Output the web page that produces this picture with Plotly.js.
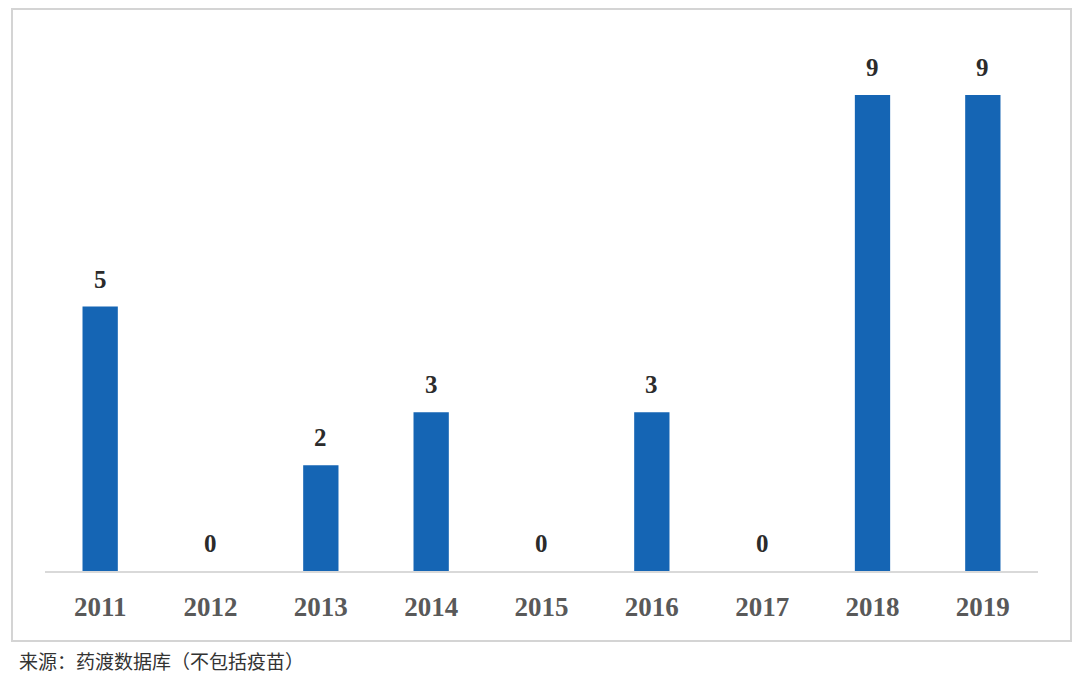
<!DOCTYPE html>
<html>
<head>
<meta charset="utf-8">
<script src="https://cdn.plot.ly/plotly-3.0.1.min.js"></script>
<style>html,body{margin:0;padding:0;background:#fff;}#chart{width:1080px;height:695px;}</style>
</head>
<body>
<div id="chart"></div>
<script>
const years = ['2011','2012','2013','2014','2015','2016','2017','2018','2019'];
const counts = [5, 0, 2, 3, 0, 3, 0, 9, 9];
const sourceText = '来源：药渡数据库（不包括疫苗）';

const plotL = 45, plotR = 1038, plotT = 42, plotB = 571;
const pw = plotR - plotL, ph = plotB - plotT;
const px = x => (x - plotL) / pw;
const py = y => (plotB - y) / ph;

const trace = {
  type: 'bar',
  x: years,
  y: counts,
  marker: {color: '#1565b4'},
  hoverinfo: 'x+y'
};

const labelAnnotations = years.map((yr, i) => ({
  x: i, y: counts[i], xref: 'x', yref: 'y',
  text: String(counts[i]), showarrow: false,
  yanchor: 'bottom', yshift: 12,
  font: {family: 'Liberation Serif, Times New Roman, serif', size: 25, color: '#2b2b2b', weight: 'bold'}
}));

const layout = {
  width: 1080, height: 695,
  margin: {l: plotL, r: 1080 - plotR, t: plotT, b: 695 - plotB},
  paper_bgcolor: '#ffffff', plot_bgcolor: '#ffffff',
  bargap: 0.68,
  showlegend: false,
  xaxis: {
    type: 'category',
    range: [-0.5, years.length - 0.5],
    showgrid: false, zeroline: false,
    showline: true, linecolor: '#d9d9d9', linewidth: 1.5,
    ticks: '', ticklabelstandoff: 11,
    tickfont: {family: 'Liberation Serif, Times New Roman, serif', size: 27, color: '#595959', weight: 'bold'}
  },
  yaxis: {
    range: [0, 10], visible: false, showgrid: false, zeroline: false
  },
  shapes: [{
    type: 'rect', xref: 'paper', yref: 'paper',
    x0: px(12), x1: px(1071), y0: py(641), y1: py(9),
    line: {color: '#d4d4d4', width: 2}, fillcolor: 'rgba(0,0,0,0)', layer: 'below'
  }],
  annotations: labelAnnotations.concat([{
    xref: 'paper', yref: 'paper', x: px(17), y: py(660),
    xanchor: 'left', yanchor: 'middle', showarrow: false,
    text: sourceText,
    font: {family: 'Noto Sans CJK SC, sans-serif', size: 19, color: '#333333'}
  }])
};

Plotly.newPlot('chart', [trace], layout, {displayModeBar: false, staticPlot: true});
</script>
</body>
</html>
